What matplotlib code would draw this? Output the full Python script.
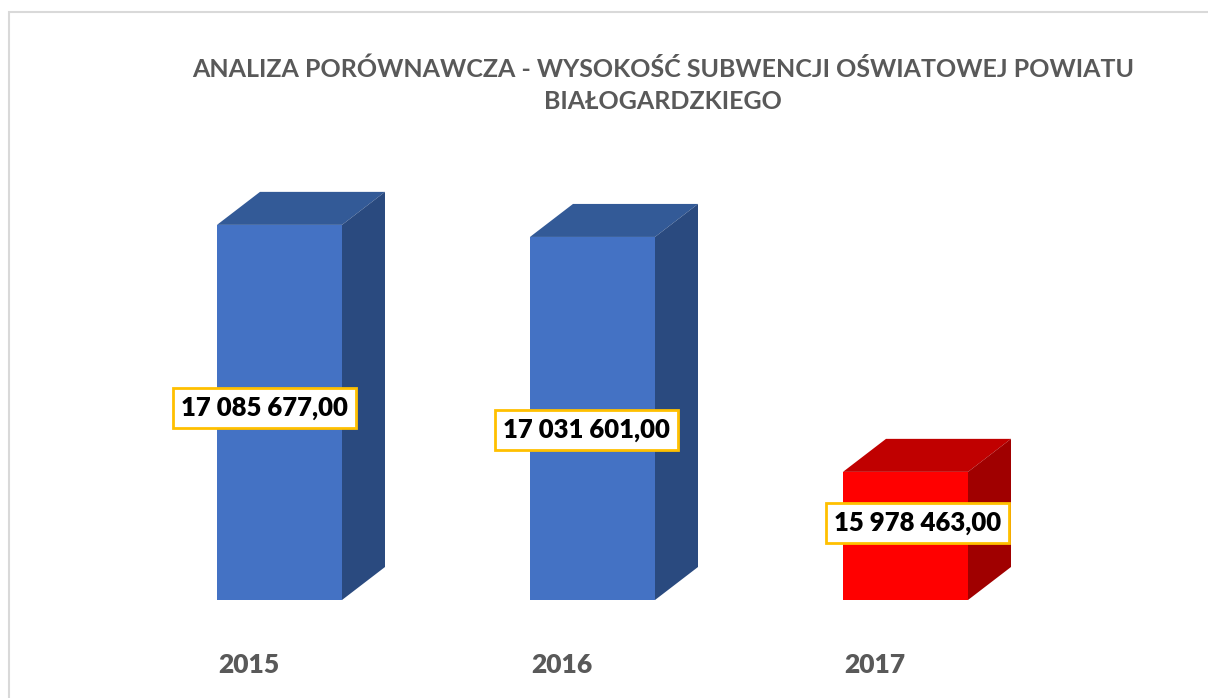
import numpy as np
import matplotlib.pyplot as plt
from matplotlib.patches import Polygon, Rectangle

years = ['2015', '2016', '2017']
values = [17085677.00, 17031601.00, 15978463.00]
labels = ['17 085 677,00', '17 031 601,00', '15 978 463,00']
title = 'ANALIZA PORÓWNAWCZA - WYSOKOŚĆ SUBWENCJI OŚWIATOWEJ POWIATU\nBIAŁOGARDZKIEGO'

front = ['#4472C4', '#4472C4', '#FF0000']
top = ['#335A97', '#335A97', '#C00000']
side = ['#2A4A7F', '#2A4A7F', '#A00000']

W, H = 1208, 698
base = 15404000.0          # axis floor (Excel truncated axis)
s = 4483.0                 # value per pixel
step = 313.0               # pixels between categories
x0 = 279.5                 # pixel x of first bar centre
floor_px = 98.0            # pixel height of baseline from bottom

plt.rcParams['font.family'] = ['Lato', 'DejaVu Sans']
fig = plt.figure(figsize=(W / 100, H / 100), dpi=100)
ax = fig.add_axes([0, 0, 1, 1])
ax.set_xlim(-x0 / step, (W - x0) / step)
ax.set_ylim(base - floor_px * s, base + (H - floor_px) * s)
ax.axis('off')

width = 125 / step
dx = 43 / step
dy = 33 * s
x = np.arange(len(values))

ax.bar(x, np.array(values) - base, bottom=base, width=width, color=front, zorder=3)
for i, v in enumerate(values):
    l, r = x[i] - width / 2, x[i] + width / 2
    ax.add_patch(Polygon([(l, v), (l + dx, v + dy), (r + dx, v + dy), (r, v)],
                         closed=True, facecolor=top[i], edgecolor='none', zorder=3))
    ax.add_patch(Polygon([(r, base), (r + dx, base + dy), (r + dx, v + dy), (r, v)],
                         closed=True, facecolor=side[i], edgecolor='none', zorder=3))

# data labels (offsets in pixels from bar centre)
lab_dx = [-15, -6, 12]
lab_y = [16265000, 16166000, 15749000]
for i, t in enumerate(labels):
    ax.text(x[i] + lab_dx[i] / step, lab_y[i], t, ha='center', va='center',
            fontsize=18.5, fontweight='heavy', color='black', zorder=5,
            bbox=dict(boxstyle='square,pad=0.3', facecolor='white', edgecolor='#FFC000', linewidth=2))

# category labels
for i, yr in enumerate(years):
    ax.text(x[i] - 31 / step, base - 65 * s, yr, ha='center', va='center',
            fontsize=19, fontweight='heavy', color='#595959')

fig.text(663 / W, 1 - 85 / H, title, ha='center', va='center', fontsize=18,
         fontweight='bold', color='#595959', linespacing=1.45)

fig.patches.append(Rectangle((9 / W, -0.1), 1.2, 1 - 12 / H + 0.1, transform=fig.transFigure,
                             fill=False, edgecolor='#D9D9D9', linewidth=1.5))

fig.savefig('out.png', dpi=100)
